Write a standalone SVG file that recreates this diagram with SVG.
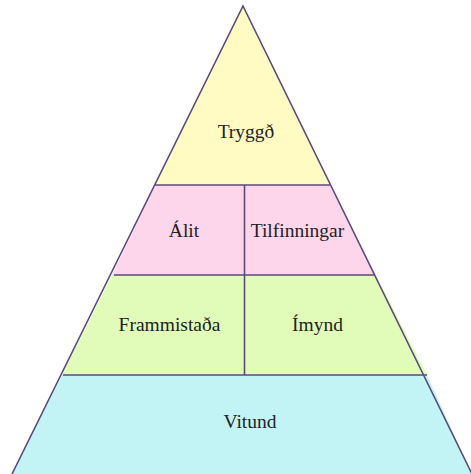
<svg xmlns="http://www.w3.org/2000/svg" width="471" height="474" viewBox="0 0 471 474">
<style>
.edge{stroke:#5a4a7c;stroke-width:1.6;fill:none;stroke-linejoin:miter}
.lbl{font-family:"Liberation Serif","Times New Roman",serif;font-size:19.5px;fill:#222;text-anchor:middle}
</style>
<rect width="471" height="474" fill="#ffffff"/>
<g id="vitund">
<polygon points="62,375 427,375 472,474 12,474" fill="#c2f4f5"/>
<text class="lbl" x="250" y="428">Vitund</text>
</g>
<g id="frammistada">
<polygon points="112,275 244.5,275 244.5,375 62,375" fill="#e0fcb8"/>
<text class="lbl" x="169.5" y="331">Frammistaða</text>
</g>
<g id="imynd">
<polygon points="244.5,275 376,275 427,375 244.5,375" fill="#e0fcb8"/>
<text class="lbl" x="317.5" y="331">Ímynd</text>
</g>
<g id="alit">
<polygon points="155,185 244.5,185 244.5,275 112,275" fill="#fdd6ec"/>
<text class="lbl" x="184" y="237">Álit</text>
</g>
<g id="tilfinningar">
<polygon points="244.5,185 330,185 376,275 244.5,275" fill="#fdd6ec"/>
<text class="lbl" x="297.5" y="237">Tilfinningar</text>
</g>
<g id="tryggd">
<polygon points="243,6 330,185 155,185" fill="#fffbc2"/>
<text class="lbl" x="246" y="138">Tryggð</text>
</g>
<g id="connectors">
<polyline class="edge" points="12,474 243,6 472,474"/>
<line class="edge" x1="155" y1="185" x2="330" y2="185"/>
<line class="edge" x1="114" y1="275" x2="375" y2="275"/>
<line class="edge" x1="63" y1="375" x2="427" y2="375"/>
<line class="edge" x1="244.5" y1="185" x2="244.5" y2="375"/>
</g>
</svg>
